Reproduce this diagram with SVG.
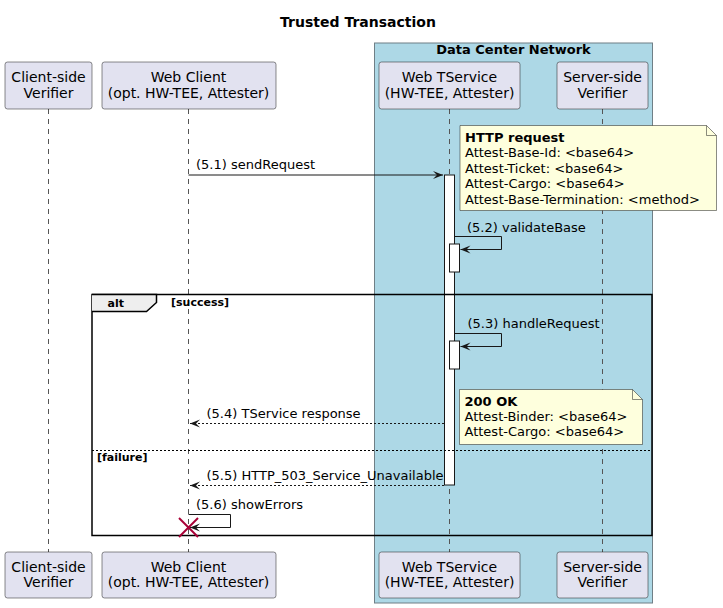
<svg xmlns="http://www.w3.org/2000/svg" width="723" height="608" viewBox="0 0 723 608">
<style>
text{font-family:"DejaVu Sans","Liberation Sans",sans-serif;font-size:13px;fill:#000}
.b{font-weight:bold}
.c{text-anchor:middle}
.p{font-size:14px}
.s{font-size:11px;font-weight:bold}
.part{fill:#E2E2F0;stroke:#181818;stroke-width:0.5}
.life{stroke:#555;stroke-width:1;stroke-dasharray:5,5;fill:none}
.act{fill:#fff;stroke:#181818;stroke-width:1}
.note{fill:#FEFFDD;stroke:#181818;stroke-width:0.5}
.msg{stroke:#181818;stroke-width:1;fill:none}
.dash{stroke-dasharray:2,2}
</style>
<defs>
<marker id="arr" markerWidth="12" markerHeight="10" refX="10" refY="4" orient="auto" markerUnits="userSpaceOnUse">
<polygon points="0,0 10,4 0,8 4,4" fill="#181818"/>
</marker>
</defs>
<rect width="723" height="608" fill="#fff"/>
<text class="b c" x="358" y="27" style="font-size:14px">Trusted Transaction</text>

<g id="box-dcn">
<rect x="374.5" y="43" width="278" height="560" fill="#ADD8E6" stroke="#6f7f86" stroke-width="1"/>
<text class="b c" x="513.5" y="54">Data Center Network</text>
</g>

<g id="lifelines">
<line class="life" x1="48.5" y1="109" x2="48.5" y2="552"/>
<line class="life" x1="188.5" y1="109" x2="188.5" y2="552"/>
<line class="life" x1="449.5" y1="109" x2="449.5" y2="552"/>
<line class="life" x1="602.5" y1="109" x2="602.5" y2="552"/>
</g>

<g id="p-client-verifier">
<rect class="part" x="5" y="62" width="87" height="47" rx="2.5"/>
<text class="c p" x="48.5" y="82">Client-side</text>
<text class="c p" x="48.5" y="98">Verifier</text>
<rect class="part" x="5" y="552" width="87" height="46" rx="2.5"/>
<text class="c p" x="48.5" y="572">Client-side</text>
<text class="c p" x="48.5" y="587">Verifier</text>
</g>
<g id="p-web-client">
<rect class="part" x="102" y="62" width="174" height="47" rx="2.5"/>
<text class="c p" x="188.5" y="82">Web Client</text>
<text class="c p" x="188.5" y="98">(opt. HW-TEE, Attester)</text>
<rect class="part" x="102" y="552" width="174" height="46" rx="2.5"/>
<text class="c p" x="188.5" y="572">Web Client</text>
<text class="c p" x="188.5" y="587">(opt. HW-TEE, Attester)</text>
</g>
<g id="p-web-tservice">
<rect class="part" x="379" y="62" width="141" height="47" rx="2.5"/>
<text class="c p" x="449.5" y="82">Web TService</text>
<text class="c p" x="449.5" y="98">(HW-TEE, Attester)</text>
<rect class="part" x="379" y="552" width="141" height="46" rx="2.5"/>
<text class="c p" x="449.5" y="572">Web TService</text>
<text class="c p" x="449.5" y="587">(HW-TEE, Attester)</text>
</g>
<g id="p-server-verifier">
<rect class="part" x="557" y="62" width="91" height="47" rx="2.5"/>
<text class="c p" x="602.5" y="82">Server-side</text>
<text class="c p" x="602.5" y="98">Verifier</text>
<rect class="part" x="557" y="552" width="91" height="46" rx="2.5"/>
<text class="c p" x="602.5" y="572">Server-side</text>
<text class="c p" x="602.5" y="587">Verifier</text>
</g>

<g id="activations">
<rect class="act" x="444.5" y="175" width="10" height="310"/>
<rect class="act" x="449.5" y="244" width="10" height="28"/>
<rect class="act" x="449.5" y="341" width="10" height="28"/>
</g>

<g id="alt-frame">
<rect x="92" y="294.5" width="560" height="241" fill="none" stroke="#000" stroke-width="1.5"/>
<path d="M92,294.5 H156.5 V302.5 L146.5,311.5 H92" fill="#EEEEEE" stroke="#000" stroke-width="1.5"/>
<text class="s" x="107.5" y="307">alt</text>
<text class="s" x="171" y="306">[success]</text>
<line x1="92" y1="450.5" x2="652" y2="450.5" stroke="#000" stroke-width="1" stroke-dasharray="2,2"/>
<text class="s" x="97" y="461">[failure]</text>
</g>

<g id="note-http">
<path class="note" d="M460,125.5 H706.5 L716.5,135.5 V210.5 H460 Z"/>
<path d="M706.5,125.5 V135.5 H716.5" fill="none" stroke="#181818" stroke-width="0.5"/>
<text class="b" x="465" y="141.5">HTTP request</text>
<text x="465" y="157">Attest-Base-Id: &lt;base64&gt;</text>
<text x="465" y="172.5">Attest-Ticket: &lt;base64&gt;</text>
<text x="465" y="188">Attest-Cargo: &lt;base64&gt;</text>
<text x="465" y="203.5">Attest-Base-Termination: &lt;method&gt;</text>
</g>

<g id="note-ok">
<path class="note" d="M459.5,389.5 H632.5 L642.5,399.5 V444.5 H459.5 Z"/>
<path d="M632.5,389.5 V399.5 H642.5" fill="none" stroke="#181818" stroke-width="0.5"/>
<text class="b" x="464.5" y="406">200 OK</text>
<text x="464.5" y="421">Attest-Binder: &lt;base64&gt;</text>
<text x="464.5" y="436">Attest-Cargo: &lt;base64&gt;</text>
</g>

<g id="connectors">
<line class="msg" x1="188.5" y1="175" x2="443" y2="175" marker-end="url(#arr)"/>
<text x="196" y="168.5">(5.1) sendRequest</text>

<polyline class="msg" points="455,236.5 501.5,236.5 501.5,249.5 460.5,249.5" marker-end="url(#arr)"/>
<text x="467" y="231.5">(5.2) validateBase</text>

<polyline class="msg" points="455,333.5 501.5,333.5 501.5,346.5 460.5,346.5" marker-end="url(#arr)"/>
<text x="467.5" y="327.5">(5.3) handleRequest</text>

<line class="msg dash" x1="444" y1="423.5" x2="190" y2="423.5" marker-end="url(#arr)"/>
<text x="206.5" y="418">(5.4) TService response</text>

<line class="msg dash" x1="444" y1="485.5" x2="190" y2="485.5" marker-end="url(#arr)"/>
<text x="206.5" y="480">(5.5) HTTP_503_Service_Unavailable</text>

<polyline class="msg" points="188.5,514.5 230.5,514.5 230.5,527.5 190,527.5" marker-end="url(#arr)"/>
<text x="196" y="509">(5.6) showErrors</text>
<g id="destroy" stroke="#A80036" stroke-width="2">
<line x1="179" y1="518" x2="198" y2="537"/>
<line x1="198" y1="518" x2="179" y2="537"/>
</g>
</g>
</svg>
